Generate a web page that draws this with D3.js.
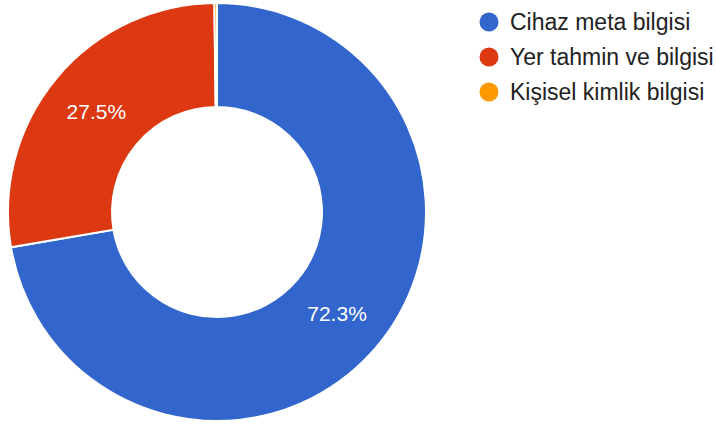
<!DOCTYPE html>
<html>
<head>
<meta charset="utf-8">
<script src="https://cdn.jsdelivr.net/npm/d3@7"></script>
<style>
  html, body { margin: 0; padding: 0; background: #fff; }
  svg { display: block; }
</style>
</head>
<body>
<svg id="chart" width="716" height="427"></svg>
<script>
// Veri kategorileri ve yüzde değerleri
const categories = ["Cihaz meta bilgisi", "Yer tahmin ve bilgisi", "Kişisel kimlik bilgisi"];
const values = [72.3, 27.5, 0.2];
const colors = ["#3366cc", "#dc3912", "#ff9900"];

const svg = d3.select("#chart");
const cx = 217, cy = 212;
const outerR = 209, innerR = 105;

const data = categories.map((name, i) => ({ name, value: values[i] }));

const color = d3.scaleOrdinal().domain(categories).range(colors);

const pie = d3.pie().value(d => d.value).sort(null);
const arc = d3.arc().innerRadius(innerR).outerRadius(outerR);

const g = svg.append("g").attr("transform", `translate(${cx},${cy})`);
const arcs = pie(data);

g.selectAll("path.slice")
  .data(arcs)
  .join("path")
  .attr("class", "slice")
  .attr("d", arc)
  .attr("fill", d => color(d.data.name))
  .attr("stroke", "#fff")
  .attr("stroke-width", 2);

// Yüzde etiketleri (küçük dilimler hariç)
g.selectAll("text.pct")
  .data(arcs.filter(d => d.data.value >= 5))
  .join("text")
  .attr("class", "pct")
  .attr("transform", d => `translate(${arc.centroid(d)})`)
  .attr("text-anchor", "middle")
  .attr("dy", "0.36em")
  .attr("fill", "#fff")
  .style("font-family", "'Liberation Sans', Arial, sans-serif")
  .style("font-size", "21px")
  .text(d => d.data.value.toFixed(1) + "%");

// Gösterge
const legend = svg.append("g").attr("transform", "translate(489,22)");
const rowH = 35;
const items = legend.selectAll("g.item")
  .data(categories)
  .join("g")
  .attr("class", "item")
  .attr("transform", (d, i) => `translate(0,${i * rowH})`);

items.append("circle")
  .attr("r", 9.5)
  .attr("fill", d => color(d));

items.append("text")
  .attr("x", 21)
  .attr("dy", "0.36em")
  .attr("fill", "#222")
  .style("font-family", "'Liberation Sans', Arial, sans-serif")
  .style("font-size", "23px")
  .text(d => d);
</script>
</body>
</html>
